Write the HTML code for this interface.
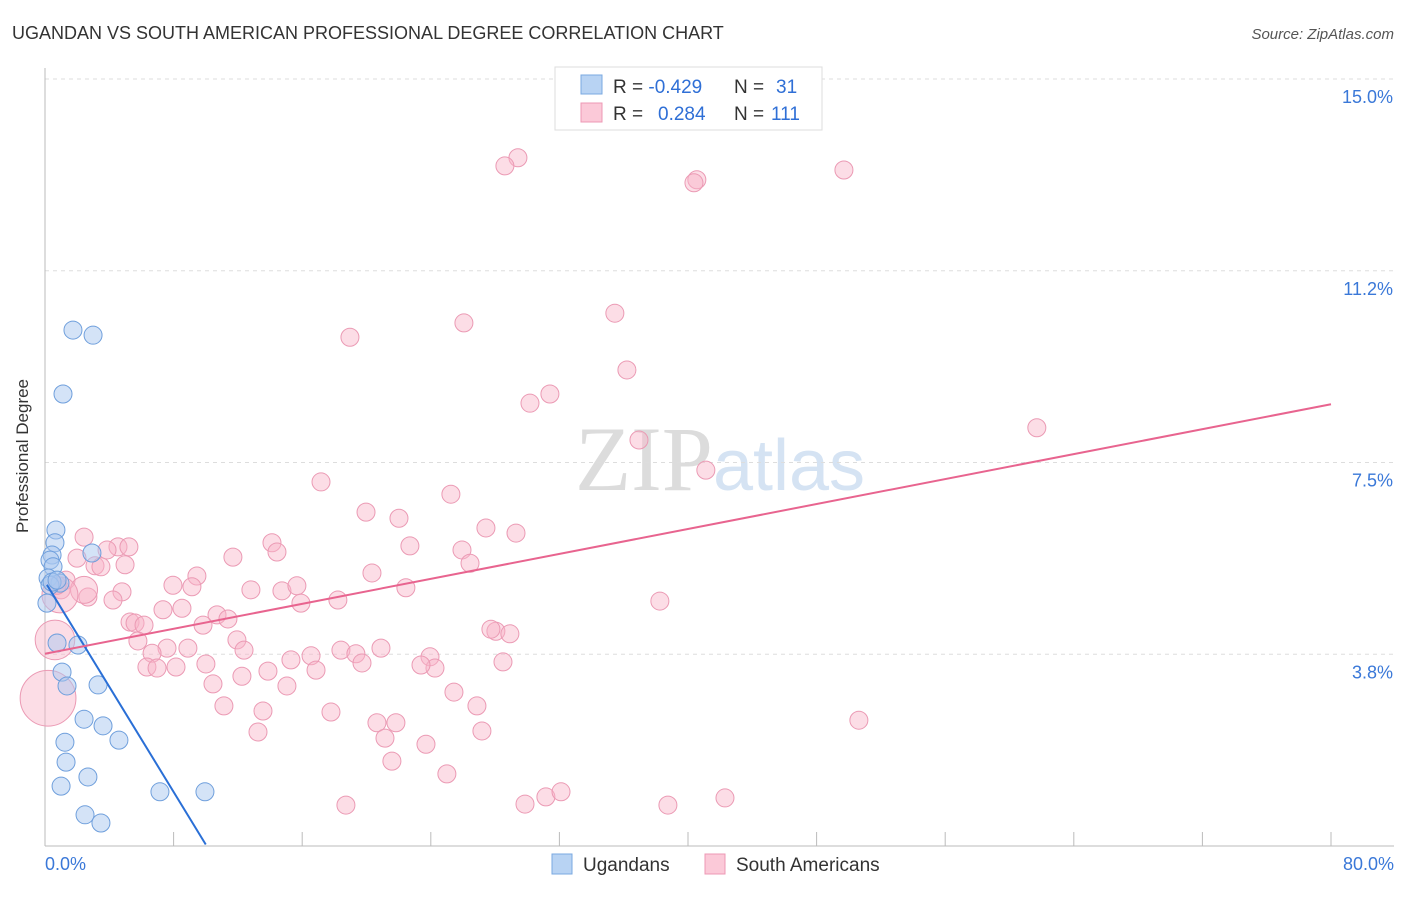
<!DOCTYPE html>
<html><head><meta charset="utf-8"><style>
body{margin:0;background:#fff;font-family:"Liberation Sans",sans-serif}
svg text{font-family:"Liberation Sans",sans-serif}
</style></head><body>
<svg width="1406" height="892" viewBox="0 0 1406 892">
<text x="12" y="39" font-size="18" fill="#333">UGANDAN VS SOUTH AMERICAN PROFESSIONAL DEGREE CORRELATION CHART</text>
<text x="1394" y="39" font-size="15" fill="#555" font-style="italic" text-anchor="end">Source: ZipAtlas.com</text>
<text x="720" y="490" font-size="92" fill="#e4e4e4" text-anchor="middle" font-family="Liberation Serif"><tspan font-family="Liberation Serif" fill="#dcdcdc">ZIP</tspan><tspan font-family="Liberation Sans" fill="#d5e3f3" font-size="72">atlas</tspan></text>
<g id="grid"></g><g id="axes"></g><g id="pts"></g><g id="lines"></g>
<text x="28" y="456" font-size="17" fill="#333" text-anchor="middle" transform="rotate(-90 28 456)">Professional Degree</text>
<g>
<rect x="555" y="67" width="267" height="63" fill="#fff" stroke="#ddd"/>
<rect x="581" y="75" width="21" height="19" fill="#b8d3f3" stroke="#7aa8e0"/>
<rect x="581" y="103" width="21" height="19" fill="#fbc9d8" stroke="#ee98b4"/>
<text x="613" y="93" font-size="19" fill="#333">R = <tspan fill="#2f6fd6">-0.429</tspan><tspan x="734">N = </tspan><tspan fill="#2f6fd6" x="776">31</tspan></text>
<text x="613" y="120" font-size="19" fill="#333">R = <tspan fill="#2f6fd6" x="658">0.284</tspan><tspan x="734">N = </tspan><tspan fill="#2f6fd6" x="771">111</tspan></text>
</g>
<g>
<rect x="552" y="854" width="20" height="20" fill="#b8d3f3" stroke="#7aa8e0"/>
<text x="583" y="871" font-size="19" fill="#333">Ugandans</text>
<rect x="705" y="854" width="20" height="20" fill="#fbc9d8" stroke="#ee98b4"/>
<text x="736" y="871" font-size="19" fill="#333">South Americans</text>
</g>
</svg>
<script>
const yTicks=[3.75,7.5,11.25,15];
const yTickLabels=["3.8%","7.5%","11.2%","15.0%"];
const xTickLabels=["0.0%","80.0%"];
const blueX=[1.74,2.99,1.12,0.68,0.62,0.44,0.31,0.50,0.19,0.93,2.92,0.31,0.12,0.75,2.05,1.06,1.37,3.30,2.43,3.61,1.24,4.60,1.31,2.67,1.00,7.15,9.95,2.49,3.48,0.44,0.75];
const blueY=[10.09,9.99,8.84,6.18,5.93,5.69,5.59,5.46,5.24,5.14,5.73,5.10,4.75,3.97,3.93,3.40,3.13,3.15,2.48,2.35,2.03,2.07,1.64,1.35,1.17,1.06,1.06,0.61,0.45,5.16,5.20];
const pinkX=[29.42,28.61,40.55,40.37,49.70,26.06,18.97,35.45,36.20,31.41,30.17,36.95,61.70,41.11,17.17,25.25,19.97,22.02,27.43,29.30,22.70,25.94,26.44,11.69,14.12,14.43,20.34,9.45,7.96,9.14,12.81,14.74,15.67,15.92,22.45,18.22,38.25,2.43,4.54,3.86,1.99,3.11,3.48,4.98,1.31,1.00,2.67,4.79,4.23,7.34,8.52,10.70,11.38,9.83,5.29,5.60,6.16,11.94,5.78,7.59,8.89,12.38,6.66,18.41,19.34,20.90,16.55,19.72,23.95,24.26,23.39,15.30,16.86,10.01,13.87,6.34,6.97,8.15,12.25,10.45,15.05,25.44,28.49,28.05,28.92,27.74,26.87,11.13,13.56,17.79,20.65,21.83,13.25,21.15,23.70,27.18,50.63,21.58,25.00,18.72,29.86,31.16,32.10,38.75,42.30,2.43,0.93,0.62,0.19,0.75,5.22];
const pinkY=[13.46,13.30,13.03,12.97,13.22,10.23,9.95,10.42,9.31,8.84,8.66,7.94,8.18,7.35,7.12,6.88,6.53,6.41,6.22,6.12,5.87,5.79,5.53,5.65,5.93,5.75,5.34,5.28,5.10,5.07,5.01,4.99,5.09,4.75,5.05,4.81,4.79,6.04,5.85,5.79,5.63,5.48,5.46,5.50,5.20,5.01,4.87,4.97,4.81,4.62,4.65,4.52,4.44,4.32,4.38,4.36,4.32,4.03,4.01,3.87,3.87,3.83,3.77,3.83,3.76,3.87,3.72,3.58,3.70,3.48,3.54,3.64,3.44,3.56,3.42,3.50,3.48,3.50,3.32,3.17,3.13,3.01,3.60,4.20,4.15,4.24,2.74,2.74,2.64,2.62,2.41,2.41,2.23,2.11,1.99,2.25,2.46,1.66,1.41,0.80,0.82,0.96,1.06,0.80,0.94,5.01,4.91,4.03,2.89,5.10,5.85];
const pinkWeight=new Array(105).fill(1).concat([1.5,2,2.2,3.1,1,1]);
const blueFit=[5.17,-0.514];
const pinkFit=[3.76,0.061];
const X=v=>45+v/80*1286, Y=v=>846-v/15*767;
const NS='http://www.w3.org/2000/svg';
function mk(t,a,p){const e=document.createElementNS(NS,t);for(const k in a)e.setAttribute(k,a[k]);document.getElementById(p).appendChild(e);return e;}
yTicks.forEach((t,i)=>{
 const l=mk('line',{x1:45,x2:1394,y1:Y(t),y2:Y(t),stroke:'#ddd','stroke-dasharray':'4,4'},'grid');
 
 
 const tx=mk('text',{x:1393,y:Y(t)+24,'font-size':18,fill:'#3a78d8','text-anchor':'end'},'grid');tx.textContent=yTickLabels[i];
 
 
});
const ax=mk('line',{x1:45,x2:45,y1:68,y2:846,stroke:'#bbb'},'axes');


const bx=mk('line',{x1:45,x2:1394,y1:846,y2:846,stroke:'#bbb'},'axes');


for(let i=0;i<=10;i++){const t=mk('line',{x1:X(i*8),x2:X(i*8),y1:832,y2:846,stroke:'#bbb'},'axes');
 
 }
[[0,45,'start'],[1,1394,'end']].forEach(([i,x,a])=>{const t=mk('text',{x:x,y:870,'font-size':18,fill:'#3a78d8','text-anchor':a},'axes');t.textContent=xTickLabels[i];
 
 });
pinkX.forEach((v,i)=>{const c=mk('circle',{cx:X(v),cy:Y(pinkY[i]),r:9*pinkWeight[i],fill:'rgba(248,180,200,0.45)',stroke:'#eb9ab4','stroke-width':1},'pts');
 
 });
blueX.forEach((v,i)=>{const c=mk('circle',{cx:X(v),cy:Y(blueY[i]),r:9,fill:'rgba(170,200,240,0.5)',stroke:'#6f9fdc','stroke-width':1},'pts');
 
 });
const bl=mk('line',{x1:X(0.12),y1:Y(blueFit[0]+blueFit[1]*0.12),x2:X(10),y2:Y(blueFit[0]+blueFit[1]*10),stroke:'#2a6fd6','stroke-width':2},'lines');


const pl=mk('line',{x1:X(0),y1:Y(pinkFit[0]),x2:X(80),y2:Y(pinkFit[0]+pinkFit[1]*80),stroke:'#e8648f','stroke-width':2},'lines');


</script>
</body></html>
